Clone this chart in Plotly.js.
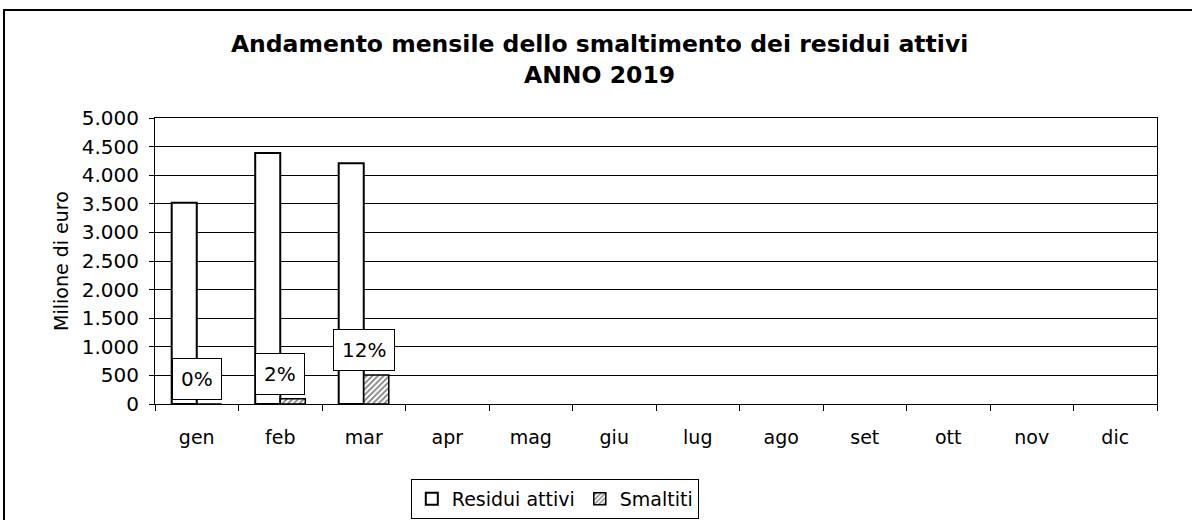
<!DOCTYPE html>
<html>
<head>
<meta charset="utf-8">
<script src="https://cdn.plot.ly/plotly-3.0.1.min.js"></script>
<style>
  html, body { margin: 0; padding: 0; width: 1192px; height: 520px; overflow: hidden; background: #fff; }
  #chart { position: absolute; left: 0; top: 0; width: 1192px; height: 520px; }
  #frame { position: absolute; left: 3px; top: 9px; width: 1300px; height: 700px; border: 2px solid #000; pointer-events: none; }
</style>
</head>
<body>
<div id="chart"></div>
<div id="frame"></div>
<script>
const months = ["gen", "feb", "mar", "apr", "mag", "giu", "lug", "ago", "set", "ott", "nov", "dic"];
const residuiAttivi = [3520, 4390, 4210, null, null, null, null, null, null, null, null, null];
const smaltiti = [0, 90, 505, null, null, null, null, null, null, null, null, null];
const yTicks = [0, 500, 1000, 1500, 2000, 2500, 3000, 3500, 4000, 4500, 5000];

const FONT = "DejaVu Sans, Verdana, sans-serif";

const traces = [
  {
    type: "bar", name: "Residui attivi", x: months, y: residuiAttivi,
    marker: { color: "#ffffff", line: { color: "#000000", width: 2 } },
    hoverinfo: "x+y"
  },
  {
    type: "bar", name: "Smaltiti", x: months, y: smaltiti,
    marker: {
      color: "#ffffff",
      line: { color: "#000000", width: 1.5 },
      pattern: { shape: "/", fgcolor: "#7f7f7f", bgcolor: "#ffffff", size: 4, solidity: 0.45 }
    },
    hoverinfo: "x+y"
  }
];

const annotations = [];
months.forEach((m, i) => {
  const r = residuiAttivi[i], s = smaltiti[i];
  if (r == null || s == null) return;
  annotations.push({
    x: m, y: s, xref: "x", yref: "y",
    text: Math.round(s / r * 100) + "%",
    showarrow: false, yanchor: "bottom", yshift: 4,
    font: { family: FONT, size: 20, color: "#000" },
    bgcolor: "#ffffff", bordercolor: "#000000", borderwidth: 1, borderpad: 8
  });
});

const layout = {
  width: 1192, height: 520,
  paper_bgcolor: "#ffffff", plot_bgcolor: "#ffffff",
  separators: ",.",
  margin: { l: 155, r: 35, t: 118, b: 116, autoexpand: false },
  font: { family: FONT, size: 19, color: "#000" },
  title: {
    text: "<b>Andamento mensile dello smaltimento dei residui attivi<br>ANNO 2019</b>",
    font: { family: FONT, size: 23.5, color: "#000" },
    xref: "container", x: 0.503, xanchor: "center",
    yref: "container", y: 0.9, yanchor: "top"
  },
  barmode: "group", bargap: 0.4, bargroupgap: 0,
  xaxis: {
    type: "category", categoryorder: "array", categoryarray: months,
    range: [-0.5, 11.5], automargin: false,
    showline: true, linecolor: "#000", linewidth: 1, mirror: true,
    ticks: "outside", tickson: "boundaries", ticklen: 6, tickcolor: "#000",
    ticklabelstandoff: 16,
    showgrid: false, zeroline: false,
    tickfont: { family: FONT, size: 19 }
  },
  yaxis: {
    range: [0, 5000], tickvals: yTicks, tickformat: ",d", automargin: false,
    showline: true, linecolor: "#000", linewidth: 1, mirror: true,
    ticks: "outside", ticklen: 5, tickcolor: "#000",
    ticklabelstandoff: 6,
    showgrid: true, gridcolor: "#000", gridwidth: 1,
    zeroline: false,
    tickfont: { family: FONT, size: 20 },
    title: { text: "Milione di euro", font: { family: FONT, size: 19 }, standoff: 8 }
  },
  legend: {
    orientation: "h", x: 0.399, xanchor: "center",
    yref: "container", y: 0.002, yanchor: "bottom",
    bordercolor: "#000", borderwidth: 1, bgcolor: "#fff",
    font: { family: FONT, size: 19 },
    itemwidth: 30, traceorder: "normal"
  },
  annotations: annotations,
  showlegend: true
};

Plotly.newPlot("chart", traces, layout, { displayModeBar: false, staticPlot: true });
</script>
</body>
</html>
